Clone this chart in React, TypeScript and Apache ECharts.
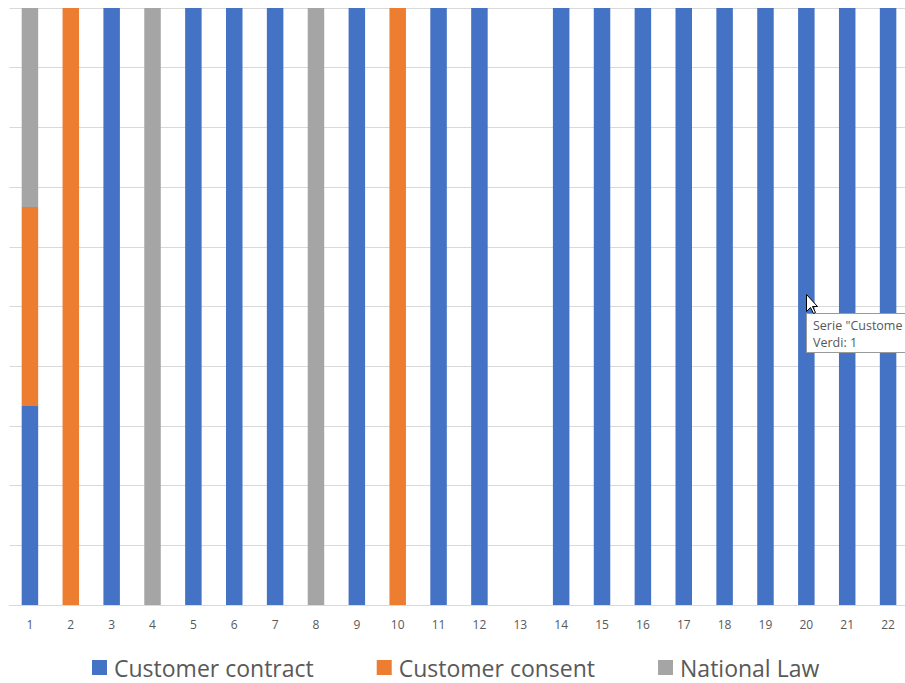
import React, { useEffect, useRef } from "react";
import * as echarts from "echarts";

const categories = ["1","2","3","4","5","6","7","8","9","10","11","12","13","14","15","16","17","18","19","20","21","22"];
const customerContract = [1,0,1,0,1,1,1,0,1,0,1,1,0,1,1,1,1,1,1,1,1,1];
const customerConsent  = [1,1,0,0,0,0,0,0,0,1,0,0,0,0,0,0,0,0,0,0,0,0];
const nationalLaw      = [1,0,0,1,0,0,0,1,0,0,0,0,0,0,0,0,0,0,0,0,0,0];

const seriesDefs = [
  { name: "Customer contract", values: customerContract, color: "#4472C4" },
  { name: "Customer consent", values: customerConsent, color: "#ED7D31" },
  { name: "National Law", values: nationalLaw, color: "#A5A5A5" },
];

// 100% stacked: each column's parts as a share of the column total
const totals = categories.map((_, i) =>
  seriesDefs.reduce((s, d) => s + d.values[i], 0)
);
const share = (vals: number[]) =>
  vals.map((v, i) => (totals[i] > 0 ? v / totals[i] : 0));

const FONT = "'Open Sans', 'Noto Sans', sans-serif";

export default function App() {
  const ref = useRef<HTMLDivElement>(null);

  useEffect(() => {
    if (!ref.current) return;
    const chart = echarts.init(ref.current, undefined, { renderer: "svg" });
    chart.setOption({
      animation: false,
      backgroundColor: "#ffffff",
      textStyle: { fontFamily: FONT },
      // plot area runs a little past the right edge of the canvas
      grid: {
        left: 9.5,
        width: 899,
        top: 8,
        bottom: 78,
        containLabel: false,
        outerBoundsMode: "none",
      },
      xAxis: {
        type: "category",
        data: categories,
        axisLine: { lineStyle: { color: "#d9d9d9" } },
        axisTick: { show: false },
        axisLabel: { color: "#595959", fontSize: 12, margin: 13, fontFamily: FONT },
      },
      yAxis: {
        type: "value",
        min: 0,
        max: 1,
        interval: 0.1,
        axisLabel: { show: false },
        axisLine: { show: false },
        axisTick: { show: false },
        splitLine: { lineStyle: { color: "#d9d9d9" } },
      },
      legend: {
        left: 92,
        top: 656,
        padding: 0,
        itemWidth: 15,
        itemHeight: 15,
        itemGap: 63,
        icon: "rect",
        textStyle: { color: "#595959", fontSize: 23, fontFamily: FONT, padding: [0, 0, 0, 2] },
        data: seriesDefs.map((d) => d.name),
      },
      series: seriesDefs.map((d) => ({
        name: d.name,
        type: "bar",
        stack: "total",
        barWidth: 16.5,
        data: share(d.values),
        itemStyle: { color: d.color },
      })),
      graphic: [
        {
          type: "rect",
          z: 100,
          shape: { x: 806.5, y: 313.5, width: 110, height: 39 },
          style: { fill: "#ffffff", stroke: "#9a9a9a", lineWidth: 1 },
        },
        {
          type: "text",
          z: 101,
          x: 813,
          y: 317,
          style: {
            text: 'Serie "Custome\nVerdi: 1',
            fontSize: 12.5,
            lineHeight: 17,
            fill: "#575757",
            fontFamily: FONT,
          },
        },
        {
          type: "polygon",
          z: 102,
          x: 806.5,
          y: 294.5,
          shape: {
            points: [[0,0],[0,17],[4,13],[7,19],[9,18],[6,12],[11,12]],
          },
          style: { fill: "#ffffff", stroke: "#000000", lineWidth: 1 },
        },
      ],
    });
    return () => chart.dispose();
  }, []);

  return (
    <div
      ref={ref}
      style={{ position: "fixed", left: 0, top: 0, width: 905, height: 683, overflow: "hidden" }}
    />
  );
}
